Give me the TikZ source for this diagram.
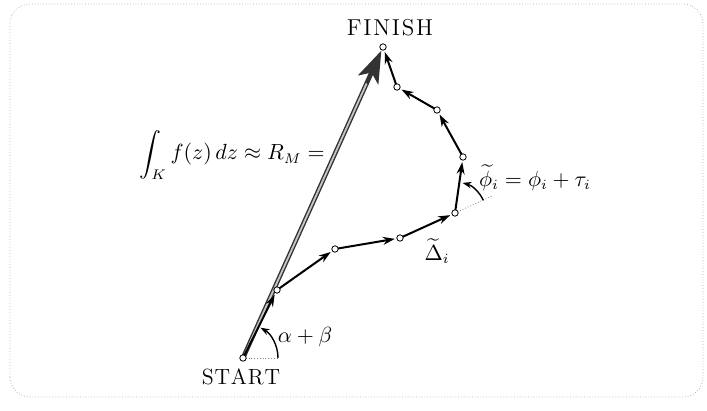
\documentclass[tikz,border=0pt]{standalone}
\usepackage{amsmath}
\usetikzlibrary{arrows.meta}

\begin{document}
\begin{tikzpicture}[x=0.5pt, y=0.5pt,
		dot/.style={circle, draw, fill=white, inner sep=0pt, minimum size=3.2pt, line width=0.4pt},
		seg/.style={line width=1pt, -{Stealth[length=6pt,width=4pt]}, shorten >=2.6pt},
		ang/.style={line width=0.7pt, -{Stealth[length=4.5pt,width=3.2pt]}},
		aux/.style={densely dotted, line width=0.4pt, gray}]

		\useasboundingbox (0,0) rectangle (707,411);
		\draw[gray!60, densely dotted, rounded corners=10pt] (10,14) rectangle (703,407);

		% path points
		\coordinate (s) at (243,53);
		\coordinate (p1) at (277,121);
		\coordinate (p2) at (335,162);
		\coordinate (p3) at (400,173);
		\coordinate (p4) at (455,198);
		\coordinate (p5) at (463,254);
		\coordinate (p6) at (437,301);
		\coordinate (p7) at (397,324);
		\coordinate (f) at (383,364);
		\coordinate (sa) at (278,53);
		\coordinate (p4e) at (492,215);

		% sum arrow
		\draw[line width=2.3pt, black!80, shorten >=2pt, -{Stealth[length=16pt,width=11pt,inset=4pt]}] (s) -- (f);
		\draw[line width=0.9pt, gray!45, shorten >=20pt, shorten <=2pt] (s) -- (f);

		\draw[seg] (s) -- (p1);
		\draw[seg] (p1) -- (p2);
		\draw[seg] (p2) -- (p3);
		\draw[seg] (p3) -- (p4);
		\draw[seg] (p4) -- (p5);
		\draw[seg] (p5) -- (p6);
		\draw[seg] (p6) -- (p7);
		\draw[seg] (p7) -- (f);

		% angles
		\draw[aux] (s) -- (sa);
		\draw[ang] (sa) arc[start angle=0, end angle=60, radius=35];
		\draw[aux] (p4) -- (p4e);
		\draw[ang] ([shift={(24:31)}]p4) arc[start angle=24, end angle=76, radius=31];

		\foreach \p in {s,p1,p2,p3,p4,p5,p6,p7,f}
			\node[dot] (d\p) at (\p) {};

		\node (finish) at (390,383) {\fontsize{11.5}{13}\selectfont F\kern0.9pt I\kern0.9pt N\kern0.9pt I\kern0.9pt S\kern0.9pt H};
		\node (start) at (241,34) {\fontsize{11}{13}\selectfont S\kern0.4pt T\kern0.4pt A\kern0.4pt R\kern0.4pt T};
		\node (sum) at (232,256) {\fontsize{10.5}{13}\selectfont$\displaystyle\int_K f(z)\,dz \approx R_M =$};
		\node (ab) at (305,74) {\fontsize{10.5}{12}\selectfont$\alpha+\beta$};
		\node (phi) at (535,233) {\fontsize{10.5}{12}\selectfont$\widetilde{\phi}_i = \phi_i + \tau_i$};
		\node (dl) at (437,160) {\fontsize{10.5}{12}\selectfont$\widetilde{\Delta}_i$};

\end{tikzpicture}
\end{document}
